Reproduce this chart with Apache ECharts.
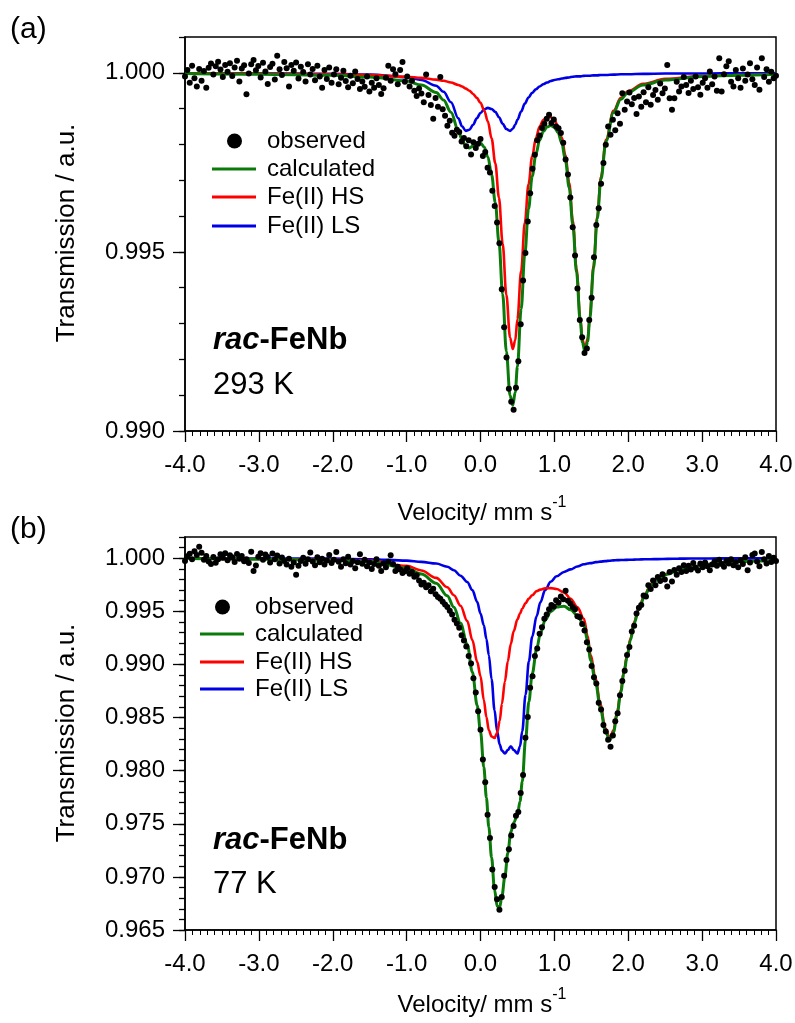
<!DOCTYPE html>
<html>
<head>
<meta charset="utf-8">
<script src="https://cdn.jsdelivr.net/npm/echarts@6/dist/echarts.min.js"></script>
<style>
  html, body { margin: 0; padding: 0; background: #fff; }
  #chart { width: 795px; height: 1023px; }
</style>
</head>
<body>
<div id="chart"></div>
<script>
// Mössbauer spectra of rac-FeNb at 293 K (a) and 77 K (b).
// Channel velocity calibration (mm/s) for the observed spectra.
const velocityStart = -4.0;
const velocityStep = 0.032;

// Observed transmission, panel (a), 293 K
const observedA = [
  0.99990, 1.00008, 0.99972, 1.00020, 0.99985, 0.99962, 1.00011, 0.99978, 1.00005, 0.99958,
  1.00014, 1.00026, 0.99995, 1.00018, 1.00031, 1.00009, 0.99988, 1.00022, 1.00003, 1.00027,
  0.99991, 1.00015, 1.00034, 0.99976, 1.00012, 1.00021, 0.99940, 0.99998, 1.00024, 1.00036,
  1.00007, 1.00019, 0.99987, 1.00028, 1.00004, 0.99969, 1.00016, 1.00025, 0.99981, 1.00048,
  1.00010, 0.99994, 1.00030, 1.00013, 0.99962, 1.00022, 1.00006, 1.00029, 0.99984, 1.00017,
  1.00002, 0.99976, 1.00024, 0.99995, 1.00011, 0.99979, 1.00020, 0.99990, 0.99958, 1.00008,
  0.99983, 1.00015, 0.99972, 0.99995, 1.00010, 0.99968, 0.99986, 1.00006, 0.99977, 0.99960,
  0.99992, 0.99971, 1.00004, 0.99983, 0.99955, 0.99976, 0.99961, 0.99990, 0.99948, 0.99972,
  0.99958, 0.99985, 0.99966, 0.99941, 0.99957, 0.99986, 1.00020, 0.99978, 1.00010, 0.99996,
  0.99968, 1.00008, 1.00030, 0.99975, 0.99990, 0.99962, 0.99978, 0.99950, 0.99935, 0.99956,
  0.99942, 0.99918, 0.99995, 0.99938, 0.99910, 0.99872, 0.99930, 0.99905, 0.99988, 0.99898,
  0.99880, 0.99852, 0.99866, 0.99833, 0.99824, 0.99841, 0.99835, 0.99808, 0.99818, 0.99795,
  0.99812, 0.99772, 0.99806, 0.99790, 0.99802, 0.99815, 0.99768, 0.99779, 0.99735, 0.99722,
  0.99671, 0.99628, 0.99582, 0.99524, 0.99396, 0.99290, 0.99205, 0.99118, 0.99082, 0.99059,
  0.99121, 0.99195, 0.99298, 0.99420, 0.99497, 0.99585, 0.99664, 0.99732, 0.99771, 0.99812,
  0.99825, 0.99846, 0.99858, 0.99872, 0.99883, 0.99860, 0.99870, 0.99850, 0.99845, 0.99832,
  0.99805, 0.99758, 0.99716, 0.99652, 0.99569, 0.99490, 0.99398, 0.99310, 0.99262, 0.99218,
  0.99230, 0.99310, 0.99372, 0.99485, 0.99575, 0.99622, 0.99690, 0.99748, 0.99799, 0.99850,
  0.99827, 0.99869, 0.99840, 0.99887, 0.99858, 0.99943, 0.99897, 0.99920, 0.99945, 0.99912,
  0.99930, 0.99885, 0.99934, 0.99905, 0.99946, 0.99918, 0.99960, 0.99911, 0.99938, 0.99952,
  0.99925, 0.99970, 0.99943, 0.99956, 1.00022, 0.99929, 0.99897, 0.99929, 0.99975, 0.99948,
  0.99962, 0.99988, 0.99966, 0.99944, 0.99978, 0.99955, 0.99990, 0.99960, 0.99939, 0.99972,
  0.99985, 0.99958, 1.00004, 0.99968, 0.99990, 0.99950, 1.00041, 0.99948, 0.99996, 1.00018,
  1.00032, 0.99975, 0.99962, 1.00008, 0.99985, 0.99958, 1.00012, 0.99978, 0.99995, 1.00027,
  0.99982, 0.99966, 1.00015, 0.99953, 1.00041, 0.99988, 1.00010, 0.99975, 1.00003, 0.99985,
  0.99992
];

// Observed transmission, panel (b), 77 K
const observedB = [
  0.99975, 1.00018, 1.00042, 0.99990, 1.00065, 1.00030, 1.00108, 1.00052, 0.99985, 1.00020,
  0.99970, 0.99945, 1.00012, 0.99958, 0.99990, 1.00038, 1.00005, 1.00046, 0.99980, 1.00028,
  1.00010, 0.99965, 1.00040, 0.99995, 1.00022, 0.99972, 0.99990, 0.99955, 1.00060, 0.99880,
  0.99932, 1.00015, 1.00048, 0.99985, 1.00035, 1.00012, 0.99960, 1.00044, 0.99990, 1.00025,
  0.99950, 1.00008, 0.99975, 0.99940, 0.99995, 0.99920, 0.99960, 0.99845, 0.99930, 0.99975,
  1.00005, 0.99948, 0.99990, 1.00055, 0.99970, 0.99935, 1.00010, 0.99962, 0.99995, 0.99940,
  0.99978, 1.00030, 0.99955, 0.99985, 1.00058, 0.99968, 0.99920, 0.99990, 0.99952, 1.00015,
  0.99940, 0.99975, 0.99905, 0.99962, 1.00038, 0.99948, 0.99985, 0.99925, 0.99960, 0.99898,
  0.99945, 0.99990, 0.99930, 0.99880, 0.99950, 0.99915, 0.99968, 1.00028, 0.99945, 0.99880,
  0.99920, 0.99895, 0.99860, 0.99878, 0.99905, 0.99855, 0.99870, 0.99825, 0.99840, 0.99790,
  0.99752, 0.99770, 0.99728, 0.99745, 0.99690, 0.99712, 0.99660, 0.99635, 0.99618, 0.99590,
  0.99565, 0.99540, 0.99505, 0.99470, 0.99420, 0.99385, 0.99345, 0.99275, 0.99225, 0.99170,
  0.99080, 0.99010, 0.98870, 0.98735, 0.98560, 0.98385, 0.98105, 0.97890, 0.97585, 0.97365,
  0.97070, 0.96905, 0.96790, 0.96690, 0.96810, 0.97010, 0.97160, 0.97260, 0.97390, 0.97480,
  0.97575, 0.97610, 0.97790, 0.97960, 0.98310, 0.98505, 0.98780, 0.98890, 0.99080, 0.99150,
  0.99290, 0.99350, 0.99430, 0.99470, 0.99520, 0.99560, 0.99545, 0.99605, 0.99580, 0.99640,
  0.99615, 0.99695, 0.99600, 0.99575, 0.99540, 0.99520, 0.99455, 0.99445, 0.99380, 0.99320,
  0.99210, 0.99140, 0.98985, 0.98880, 0.98820, 0.98640, 0.98575, 0.98430, 0.98370, 0.98290,
  0.98225, 0.98330, 0.98465, 0.98540, 0.98710, 0.98845, 0.98940, 0.99090, 0.99165, 0.99310,
  0.99365, 0.99480, 0.99535, 0.99560, 0.99650, 0.99640, 0.99746, 0.99710, 0.99790, 0.99745,
  0.99824, 0.99785, 0.99850, 0.99800, 0.99735, 0.99870, 0.99780, 0.99890, 0.99845, 0.99905,
  0.99870, 0.99935, 0.99880, 0.99930, 0.99895, 0.99955, 0.99910, 0.99885, 0.99950, 0.99915,
  0.99960, 0.99925, 0.99888, 0.99940, 0.99970, 0.99930, 0.99985, 0.99945, 0.99920, 0.99975,
  0.99950, 0.99990, 0.99935, 0.99965, 0.99915, 0.99980, 0.99945, 1.00010, 0.99888, 0.99960,
  1.00030, 1.00044, 0.99970, 0.99925, 1.00059, 0.99990, 0.99950, 1.00020, 0.99965, 1.00005,
  0.99975
];

// Fitted curves, panel (a): velocity nodes and transmission of each component
const fitVelocityA = [
  -4.0, -3.0, -2.0, -1.5, -1.0, -0.8, -0.6, -0.5, -0.4, -0.3,
  -0.25, -0.2, -0.15, -0.1, -0.05, 0.0, 0.05, 0.1, 0.15, 0.2,
  0.25, 0.3, 0.35, 0.4, 0.437, 0.47, 0.5, 0.55, 0.6, 0.65,
  0.7, 0.75, 0.8, 0.85, 0.9, 0.95, 1.0, 1.05, 1.1, 1.15,
  1.2, 1.25, 1.3, 1.35, 1.38, 1.415, 1.45, 1.48, 1.53, 1.58,
  1.63, 1.7, 1.8, 1.9, 2.0, 2.2, 2.5, 3.0, 3.5, 4.0
];
const calculatedA = [
  0.99998, 0.99996, 0.99993, 0.99988, 0.99977, 0.99966, 0.99945, 0.99924, 0.99890, 0.99839,
  0.99813, 0.99795, 0.99790, 0.99796, 0.99803, 0.99804, 0.99793, 0.99765, 0.99716, 0.99638,
  0.99527, 0.99382, 0.99222, 0.99099, 0.99072, 0.99108, 0.99180, 0.99340, 0.99495, 0.99620,
  0.99711, 0.99773, 0.99812, 0.99836, 0.99849, 0.99853, 0.99848, 0.99833, 0.99804, 0.99755,
  0.99680, 0.99575, 0.99443, 0.99307, 0.99247, 0.99220, 0.99250, 0.99313, 0.99454, 0.99592,
  0.99703, 0.99809, 0.99889, 0.99926, 0.99946, 0.99966, 0.99980, 0.99990, 0.99993, 0.99996
];
const hsA = [
  0.99999, 0.99998, 0.99996, 0.99994, 0.99989, 0.99986, 0.99981, 0.99978, 0.99973, 0.99966,
  0.99962, 0.99956, 0.99950, 0.99941, 0.99930, 0.99916, 0.99895, 0.99864, 0.99817, 0.99748,
  0.99651, 0.99523, 0.99380, 0.99261, 0.99229, 0.99253, 0.99312, 0.99447, 0.99582, 0.99689,
  0.99767, 0.99818, 0.99850, 0.99868, 0.99876, 0.99876, 0.99868, 0.99851, 0.99820, 0.99769,
  0.99693, 0.99587, 0.99453, 0.99316, 0.99256, 0.99228, 0.99258, 0.99321, 0.99461, 0.99598,
  0.99709, 0.99814, 0.99894, 0.99930, 0.99949, 0.99969, 0.99983, 0.99991, 0.99994, 0.99996
];
const lsA = [
  0.99999, 0.99999, 0.99997, 0.99995, 0.99988, 0.99980, 0.99964, 0.99947, 0.99918, 0.99873,
  0.99851, 0.99838, 0.99841, 0.99855, 0.99873, 0.99888, 0.99898, 0.99902, 0.99899, 0.99891,
  0.99876, 0.99858, 0.99843, 0.99838, 0.99844, 0.99855, 0.99869, 0.99892, 0.99914, 0.99931,
  0.99944, 0.99954, 0.99962, 0.99968, 0.99973, 0.99977, 0.99980, 0.99982, 0.99984, 0.99986,
  0.99987, 0.99989, 0.99990, 0.99990, 0.99991, 0.99992, 0.99992, 0.99992, 0.99993, 0.99993,
  0.99994, 0.99994, 0.99995, 0.99996, 0.99996, 0.99997, 0.99998, 0.99998, 0.99999, 0.99999
];

// Fitted curves, panel (b)
const fitVelocityB = [
  -4.0, -3.0, -2.0, -1.5, -1.0, -0.8, -0.6, -0.45, -0.36, -0.27,
  -0.18, -0.11, -0.045, 0.0, 0.045, 0.08, 0.113, 0.15, 0.19, 0.225,
  0.26, 0.29, 0.33, 0.37, 0.41, 0.45, 0.5, 0.535, 0.565, 0.61,
  0.655, 0.7, 0.76, 0.81, 0.875, 0.95, 1.03, 1.13, 1.22, 1.31,
  1.4, 1.45, 1.49, 1.56, 1.62, 1.69, 1.75, 1.8, 1.85, 1.9,
  1.94, 1.985, 2.03, 2.08, 2.14, 2.22, 2.3, 2.4, 2.53, 2.68,
  2.84, 3.1, 3.4, 3.7, 4.0
];
const calculatedB = [
  0.99997, 0.99991, 0.99982, 0.99969, 0.99906, 0.99851, 0.99765, 0.99647, 0.99539, 0.99388,
  0.99187, 0.98930, 0.98613, 0.98370, 0.98034, 0.97745, 0.97467, 0.97182, 0.96878, 0.96725,
  0.96715, 0.96820, 0.97001, 0.97225, 0.97422, 0.97510, 0.97586, 0.97710, 0.97895, 0.98293,
  0.98650, 0.98912, 0.99145, 0.99290, 0.99417, 0.99497, 0.99540, 0.99549, 0.99514, 0.99462,
  0.99373, 0.99220, 0.99041, 0.98823, 0.98598, 0.98373, 0.98285, 0.98360, 0.98535, 0.98743,
  0.98913, 0.99075, 0.99230, 0.99387, 0.99514, 0.99640, 0.99737, 0.99802, 0.99850, 0.99889,
  0.99915, 0.99943, 0.99964, 0.99974, 0.99982
];
const hsB = [
  0.99998, 0.99993, 0.99986, 0.99978, 0.99928, 0.99885, 0.99815, 0.99727, 0.99652, 0.99553,
  0.99410, 0.99230, 0.99024, 0.98890, 0.98665, 0.98505, 0.98380, 0.98322, 0.98308, 0.98355,
  0.98470, 0.98630, 0.98840, 0.99030, 0.99192, 0.99315, 0.99425, 0.99480, 0.99525, 0.99578,
  0.99620, 0.99652, 0.99690, 0.99705, 0.99717, 0.99719, 0.99710, 0.99678, 0.99619, 0.99540,
  0.99430, 0.99270, 0.99087, 0.98860, 0.98630, 0.98400, 0.98308, 0.98380, 0.98553, 0.98760,
  0.98929, 0.99090, 0.99244, 0.99400, 0.99526, 0.99650, 0.99746, 0.99810, 0.99856, 0.99893,
  0.99918, 0.99945, 0.99965, 0.99975, 0.99982
];
const lsB = [
  0.99999, 0.99998, 0.99996, 0.99991, 0.99978, 0.99966, 0.99950, 0.99920, 0.99887, 0.99835,
  0.99777, 0.99700, 0.99589, 0.99480, 0.99369, 0.99240, 0.99087, 0.98860, 0.98570, 0.98370,
  0.98245, 0.98190, 0.98161, 0.98195, 0.98230, 0.98195, 0.98161, 0.98230, 0.98370, 0.98715,
  0.99030, 0.99260, 0.99455, 0.99585, 0.99700, 0.99778, 0.99830, 0.99871, 0.99895, 0.99922,
  0.99943, 0.99950, 0.99954, 0.99963, 0.99968, 0.99973, 0.99977, 0.99980, 0.99982, 0.99983,
  0.99984, 0.99985, 0.99986, 0.99987, 0.99988, 0.99990, 0.99991, 0.99992, 0.99994, 0.99996,
  0.99997, 0.99998, 0.99999, 0.99999, 1.00000
];

// Labelled y ticks of each panel
const yMajorA = [0.990, 0.995, 1.000];
const yMajorB = [0.965, 0.970, 0.975, 0.980, 0.985, 0.990, 0.995, 1.000];
const legendLabels = ['observed', 'calculated', 'Fe(II) HS', 'Fe(II) LS'];
const temperatures = ['293 K', '77 K'];

const FONT = '"Liberation Sans", Arial, Helvetica, sans-serif';
const GREEN = '#0a7a0a';
const RED = '#ff0000';
const BLUE = '#0000e6';
const INK = '#000';

const pairs = (xs, ys) => xs.map((x, i) => [x, ys[i]]);
const channels = ys => ys.map((y, i) => [+(velocityStart + i * velocityStep).toFixed(3), y]);

const panels = [
  { tag: '(a)', top: 37, height: 394, yMin: 0.990, yMax: 1.001, majors: yMajorA,
    obs: observedA, v: fitVelocityA, calc: calculatedA, hs: hsA, ls: lsA,
    legendX: 212, legendRows: [141, 169, 197, 226], legendTextX: 267,
    sampleY: 340, tempY: 385, tagY: 30, xTitleY: 513, yTitleY: 233, temp: temperatures[0] },
  { tag: '(b)', top: 537, height: 393, yMin: 0.965, yMax: 1.002, majors: yMajorB,
    obs: observedB, v: fitVelocityB, calc: calculatedB, hs: hsB, ls: lsB,
    legendX: 200, legendRows: [607, 634, 662, 689], legendTextX: 255,
    sampleY: 840, tempY: 884, tagY: 530, xTitleY: 1005, yTitleY: 733, temp: temperatures[1] }
];

const grid = [], xAxis = [], yAxis = [], series = [], graphic = [];
const axisLineStyle = { color: INK, width: 1.5 };

panels.forEach((p) => {
  const g = grid.length;
  grid.push({ left: 185, top: p.top, width: 591, height: p.height, show: true,
    borderColor: INK, borderWidth: 1.5, backgroundColor: 'rgba(0,0,0,0)', outerBoundsMode: 'none' });
  grid.push({ left: 185, top: p.top, width: 591, height: p.height, show: false, outerBoundsMode: 'none' });

  xAxis.push({
    gridIndex: g, type: 'value', min: -4, max: 4, interval: 1,
    axisLine: { onZero: false, lineStyle: axisLineStyle },
    axisTick: { length: 11, lineStyle: { color: INK, width: 1.3 } },
    minorTick: { show: true, splitNumber: 10, length: 5, lineStyle: { color: INK, width: 1 } },
    splitLine: { show: false }, minorSplitLine: { show: false },
    axisLabel: { color: INK, fontSize: 24, fontFamily: FONT, margin: 22,
      formatter: v => v.toFixed(1) }
  });
  xAxis.push({ gridIndex: g + 1, type: 'value', min: -4, max: 4, show: false });

  yAxis.push({
    gridIndex: g, type: 'value', min: p.yMin, max: p.yMax, interval: 0.001,
    axisLine: { onZero: false, lineStyle: axisLineStyle },
    axisTick: { length: 6, lineStyle: { color: INK, width: 1.3 } },
    axisLabel: { show: false }, splitLine: { show: false }
  });
  yAxis.push({
    gridIndex: g + 1, type: 'value', min: p.yMin, max: p.yMax,
    axisLine: { show: false, onZero: false },
    axisTick: { show: true, customValues: p.majors, length: 12, lineStyle: { color: INK, width: 1.3 } },
    axisLabel: { customValues: p.majors, color: INK, fontSize: 24, fontFamily: FONT, margin: 20,
      formatter: v => v.toFixed(3) },
    splitLine: { show: false }
  });

  const xi = xAxis.length - 2, yi = yAxis.length - 2;
  const curve = (name, ys, color, width, z) => ({
    type: 'line', name, xAxisIndex: xi, yAxisIndex: yi, data: pairs(p.v, ys),
    symbol: 'none', smooth: 0.35, smoothMonotone: 'x', z,
    lineStyle: { color, width }, emphasis: { disabled: true }
  });
  series.push(curve(legendLabels[3], p.ls, BLUE, 2.6, 2));
  series.push(curve(legendLabels[2], p.hs, RED, 2.6, 3));
  series.push(curve(legendLabels[1], p.calc, GREEN, 3, 4));
  series.push({
    type: 'scatter', name: legendLabels[0], xAxisIndex: xi, yAxisIndex: yi,
    data: channels(p.obs), symbol: 'circle', symbolSize: 6, z: 5,
    itemStyle: { color: INK, opacity: 1 }, emphasis: { disabled: true }
  });

  // panel tag
  graphic.push({ type: 'text', x: 10, y: p.tagY,
    style: { text: p.tag, fill: INK, font: '30px ' + FONT, align: 'left', verticalAlign: 'middle' } });
  // axis titles
  graphic.push({ type: 'text', x: 67, y: p.yTitleY, rotation: Math.PI / 2,
    style: { text: 'Transmission / a.u.', fill: INK, font: '26px ' + FONT, align: 'center', verticalAlign: 'middle' } });
  graphic.push({ type: 'text', x: 482, y: p.xTitleY,
    style: { text: '{a|Velocity/ mm s}{s|-1}', fill: INK, align: 'center', verticalAlign: 'middle',
      rich: { a: { fontSize: 24, fontFamily: FONT, lineHeight: 36, fill: INK },
              s: { fontSize: 16, fontFamily: FONT, verticalAlign: 'top', lineHeight: 16, fill: INK } } } });
  // sample label and temperature
  graphic.push({ type: 'text', x: 213, y: p.sampleY,
    style: { text: '{i|rac}{b|-FeNb}', fill: INK, align: 'left', verticalAlign: 'middle',
      rich: { i: { fontSize: 31, fontFamily: FONT, fontStyle: 'italic', fontWeight: 'bold', fill: INK },
              b: { fontSize: 31, fontFamily: FONT, fontWeight: 'bold', fill: INK } } } });
  graphic.push({ type: 'text', x: 213, y: p.tempY,
    style: { text: p.temp, fill: INK, font: '31px ' + FONT, align: 'left', verticalAlign: 'middle' } });

  // legend key
  const lx = p.legendX, r = p.legendRows;
  graphic.push({ type: 'circle', shape: { cx: lx + 22.5, cy: r[0], r: 7.5 }, style: { fill: INK } });
  [[GREEN, r[1]], [RED, r[2]], [BLUE, r[3]]].forEach(([c, y]) => {
    graphic.push({ type: 'line', shape: { x1: lx, y1: y, x2: lx + 44, y2: y },
      style: { stroke: c, lineWidth: 3 } });
  });
  legendLabels.forEach((t, k) => {
    graphic.push({ type: 'text', x: p.legendTextX, y: r[k],
      style: { text: t, fill: INK, font: '24px ' + FONT, align: 'left', verticalAlign: 'middle' } });
  });
});

const chart = echarts.init(document.getElementById('chart'), null, { renderer: 'canvas' });
chart.setOption({
  animation: false,
  backgroundColor: '#fff',
  grid, xAxis, yAxis, series, graphic
});
</script>
</body>
</html>
